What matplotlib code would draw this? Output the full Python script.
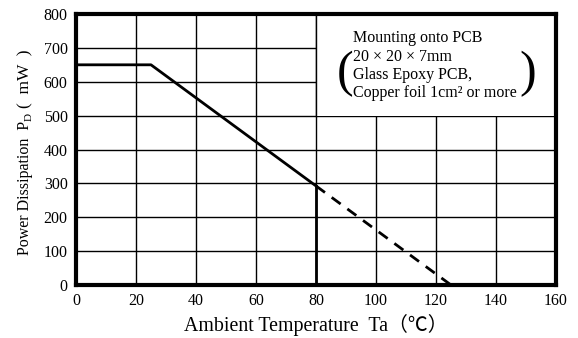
import matplotlib
matplotlib.use("Agg")
import matplotlib.pyplot as plt
from matplotlib.patches import Rectangle

FAM = ['Liberation Serif', 'Noto Sans CJK JP', 'DejaVu Sans']
plt.rcParams['font.family'] = FAM

# data
solid_T = [0, 25, 80]
solid_P = [650, 650, 292.5]
dash_T = [80, 125]
dash_P = [292.5, 0]
vert_T = [80, 80]
vert_P = [0, 292.5]
xticks = [0, 20, 40, 60, 80, 100, 120, 140, 160]
yticks = [0, 100, 200, 300, 400, 500, 600, 700, 800]
note_lines = ["Mounting onto PCB", "20 × 20 × 7mm", "Glass Epoxy PCB,", "Copper foil 1cm² or more"]

W, H = 578, 338
fig = plt.figure(figsize=(W/100, H/100), dpi=100)
ax = fig.add_axes([76/W, 1-285/H, (556-76)/W, (285-14)/H])
ax.set_xlim(0, 160)
ax.set_ylim(0, 800)
ax.set_xticks(xticks)
ax.set_yticks(yticks)
ax.tick_params(length=0, labelsize=11.5, pad=6)
ax.grid(True, color='black', linewidth=1.0)
ax.set_axisbelow(True)
for s in ax.spines.values():
    s.set_linewidth(3.0)

# white note box covering grid
ax.add_patch(Rectangle((80, 500), 80, 300, facecolor='white', edgecolor='none', zorder=1.5))
ax.plot([80, 80], [500, 800], color='black', lw=1.0, zorder=1.6)

ax.plot(solid_T, solid_P, color='black', lw=2.0, zorder=3)
ax.plot(dash_T, dash_P, color='black', lw=2.0, ls=(0, (4, 3)), zorder=3)
ax.plot(vert_T, vert_P, color='black', lw=2.0, zorder=3)

tx = 92.3
ys = [729, 674, 620, 567]
for t, y in zip(note_lines, ys):
    ax.text(tx, y, t, fontsize=11.5, va='center', ha='left', zorder=4)
ax.text(89.7, 622, "(", fontsize=36, va='center', ha='center', zorder=4)
ax.text(150.7, 622, ")", fontsize=36, va='center', ha='center', zorder=4)

ax.set_xlabel("Ambient Temperature  Ta（℃）", fontsize=14.3, labelpad=3)

# y label built from pieces (subscript D)
xbase = 29
t1 = fig.text(xbase, H - 255, "Power Dissipation  P", fontsize=11.5, rotation=90,
              rotation_mode='anchor', ha='left', va='baseline', transform=None)
t2 = ax.annotate("D", xy=(xbase + 3, 1), xycoords=('figure pixels', t1),
                 fontsize=8, rotation=90, rotation_mode='anchor',
                 ha='left', va='baseline', annotation_clip=False)
t3 = ax.annotate("(  mW  )", xy=(xbase, 1), xycoords=('figure pixels', t2),
                 xytext=(0, 5), textcoords='offset pixels',
                 fontsize=12.5, rotation=90, rotation_mode='anchor',
                 ha='left', va='baseline', annotation_clip=False)

fig.savefig("out.png", dpi=100)
